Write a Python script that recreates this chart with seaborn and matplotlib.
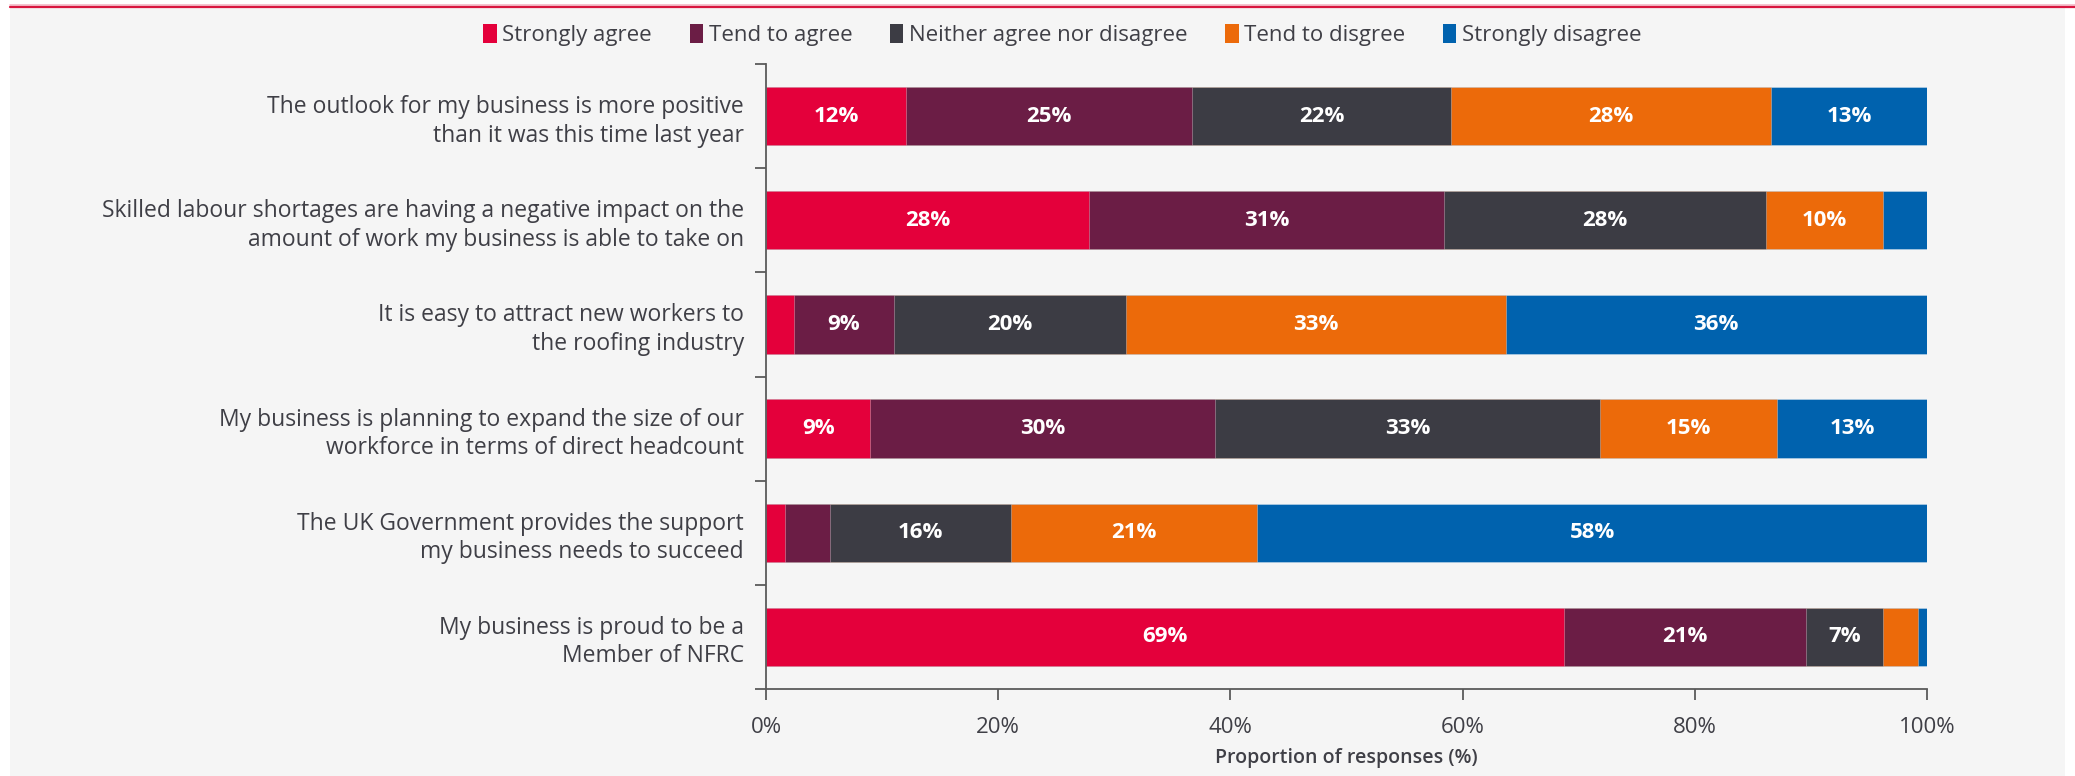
import matplotlib
matplotlib.use("Agg")
import matplotlib.pyplot as plt
from matplotlib.patches import Patch, Rectangle
from matplotlib.lines import Line2D
from matplotlib.ticker import FixedLocator, FuncFormatter
import numpy as np
import pandas as pd
import seaborn as sns

# Survey statements (y-axis categories)
statements = [
    "The outlook for my business is more positive\nthan it was this time last year",
    "Skilled labour shortages are having a negative impact on the\namount of work my business is able to take on",
    "It is easy to attract new workers to\nthe roofing industry",
    "My business is planning to expand the size of our\nworkforce in terms of direct headcount",
    "The UK Government provides the support\nmy business needs to succeed",
    "My business is proud to be a\nMember of NFRC",
]

responses = ["Strongly agree", "Tend to agree", "Neither agree nor disagree",
             "Tend to disgree", "Strongly disagree"]

# Share of responses (%) per statement, one list per response option
strongly_agree = [12.1, 27.8, 2.4, 9.0, 1.6, 68.7]
tend_to_agree = [24.6, 30.6, 8.6, 29.7, 3.9, 20.9]
neither = [22.3, 27.7, 20.0, 33.1, 15.6, 6.6]
tend_to_disagree = [27.6, 10.1, 32.7, 15.3, 21.2, 3.0]
strongly_disagree = [13.4, 3.8, 36.3, 12.9, 57.7, 0.8]

colors = ["#E4003B", "#6B1D45", "#3C3C44", "#EC6A0A", "#0062AE"]

series = [strongly_agree, tend_to_agree, neither, tend_to_disagree, strongly_disagree]

rows = []
for resp, vals in zip(responses, series):
    for st, v in zip(statements, vals):
        rows.append({"statement": st, "response": resp, "value": v})
df = pd.DataFrame(rows)
df["response"] = pd.Categorical(df["response"], categories=responses, ordered=True)
df["statement"] = pd.Categorical(df["statement"], categories=statements, ordered=True)
df = df.sort_values(["statement", "response"])
df["cum"] = df.groupby("statement", observed=True)["value"].cumsum()
df["start"] = df["cum"] - df["value"]

sns.set_theme(style="white")
plt.rcParams["font.family"] = ["Open Sans", "DejaVu Sans"]

text_col = "#3F3F46"
axis_col = "#5A5A5A"

fig = plt.figure(figsize=(20.75, 7.76), dpi=100, facecolor="white")

# light panel behind the chart and the thin red rule above it
fig.patches.append(Rectangle((10 / 2075, 0), (2065 - 10) / 2075, 1 - 8 / 776,
                             transform=fig.transFigure, facecolor="#F5F5F5",
                             edgecolor="none", zorder=-10))
fig.lines.append(Line2D([10 / 2075, 1.0], [1 - 4.5 / 776, 1 - 4.5 / 776],
                        transform=fig.transFigure, color="#F4B8C6", lw=1.2, zorder=-5))
fig.lines.append(Line2D([10 / 2075, 1.0], [1 - 6.5 / 776, 1 - 6.5 / 776],
                        transform=fig.transFigure, color="#D8163F", lw=1.6, zorder=-5))

ax = fig.add_axes([766 / 2075, 1 - 689 / 776, (1927 - 766) / 2075, (689 - 64) / 776])
ax.set_facecolor("none")
ax.set_zorder(1)

# stacked bars: draw cumulative totals from the last option back to the first
for resp, col in reversed(list(zip(responses, colors))):
    sub = df[df["response"] == resp]
    sns.barplot(data=sub, x="cum", y="statement", color=col, saturation=1,
                width=0.56, orient="h", ax=ax, errorbar=None,
                edgecolor=(1, 1, 1, 0.35), linewidth=0.6)

# value labels centred on each segment
for _, r in df.iterrows():
    if r["value"] >= 5:
        yi = statements.index(r["statement"])
        ax.text(r["start"] + r["value"] / 2, yi, f"{r['value']:.0f}%",
                ha="center", va="center", color="white", fontsize=16,
                fontweight="bold")

ax.set_xlim(0, 100)
ax.set_ylim(5.5, -0.5)
ax.xaxis.set_major_locator(FixedLocator([0, 20, 40, 60, 80, 100]))
ax.xaxis.set_major_formatter(FuncFormatter(lambda v, p: f"{v:.0f}%"))
ax.set_xlabel("Proportion of responses (%)", fontsize=14, fontweight="semibold",
              color=text_col, labelpad=7)
ax.set_ylabel("")

ax.yaxis.set_minor_locator(FixedLocator(np.arange(-0.5, 6.0, 1.0)))
ax.tick_params(axis="y", which="major", length=0, pad=16, labelsize=16.5,
               labelcolor=text_col)
ax.tick_params(axis="y", which="minor", length=8, width=1.3, color=axis_col, left=True)
ax.tick_params(axis="x", which="major", length=8, width=1.3, color=axis_col,
               bottom=True, labelsize=16, labelcolor=text_col, pad=12)
for lab in ax.get_yticklabels():
    lab.set_horizontalalignment("right")
    lab.set_linespacing(1.25)

for s in ["top", "right"]:
    ax.spines[s].set_visible(False)
for s in ["left", "bottom"]:
    ax.spines[s].set_color(axis_col)
    ax.spines[s].set_linewidth(1.3)

handles = [Patch(facecolor=c, edgecolor="none", label=r) for r, c in zip(responses, colors)]
fig.legend(handles=handles, loc="center", bbox_to_anchor=(0.512, 1 - 35 / 776),
           ncol=5, frameon=False, fontsize=16, handlelength=0.6, handleheight=0.9,
           handletextpad=0.25, columnspacing=1.7, labelcolor=text_col)

fig.savefig("out.png", dpi=100, facecolor="white")
